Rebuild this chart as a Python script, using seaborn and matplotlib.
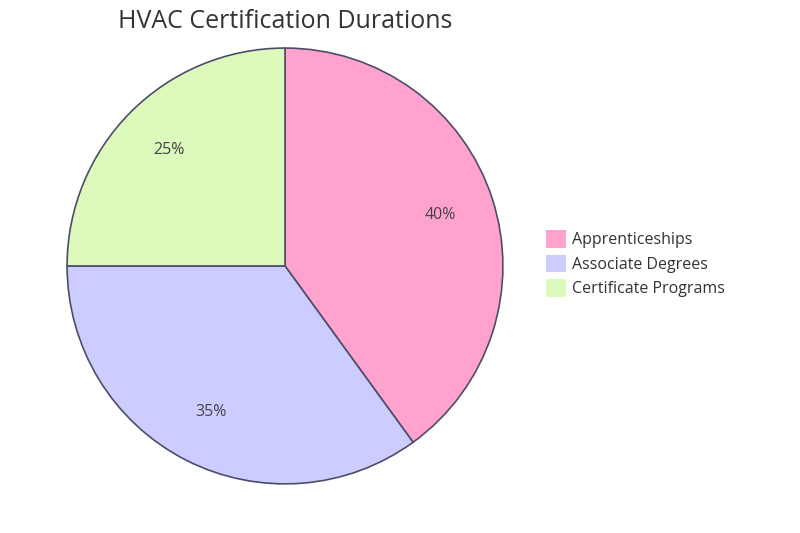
import matplotlib.pyplot as plt
import matplotlib.patches as mpatches
import seaborn as sns

sns.set_theme(style="white")
plt.rcParams['font.family'] = ['Open Sans', 'DejaVu Sans']

labels = ['Apprenticeships', 'Associate Degrees', 'Certificate Programs']
values = [40, 35, 25]
colors = ['#FFA3CE', '#CCCCFF', '#DDF9BC']
edge = '#4D4D6B'

fig = plt.figure(figsize=(8, 5.33), dpi=100)
ax = fig.add_axes([0.0825, 0.09, 0.5475, 0.822])
ax.pie(values, colors=colors, startangle=90, counterclock=False,
       autopct='%d%%', pctdistance=0.75,
       wedgeprops=dict(edgecolor=edge, linewidth=1.2),
       textprops=dict(color='#444444', fontsize=11.5))
ax.set_xlim(-1.005, 1.005)
ax.set_ylim(-1.005, 1.005)
ax.set_aspect('equal')

fig.text(0.356, 0.96, 'HVAC Certification Durations', ha='center', va='center',
         fontsize=18, color='#333333')

handles = [mpatches.Patch(facecolor=c, edgecolor='none', label=l) for c, l in zip(colors, labels)]
fig.legend(handles=handles, loc='center left', bbox_to_anchor=(0.665, 0.505),
           frameon=False, fontsize=11.5, handlelength=1.2, handleheight=1.3,
           handletextpad=0.4, labelspacing=0.4, labelcolor='#333333')

fig.savefig('out.png', dpi=100)
